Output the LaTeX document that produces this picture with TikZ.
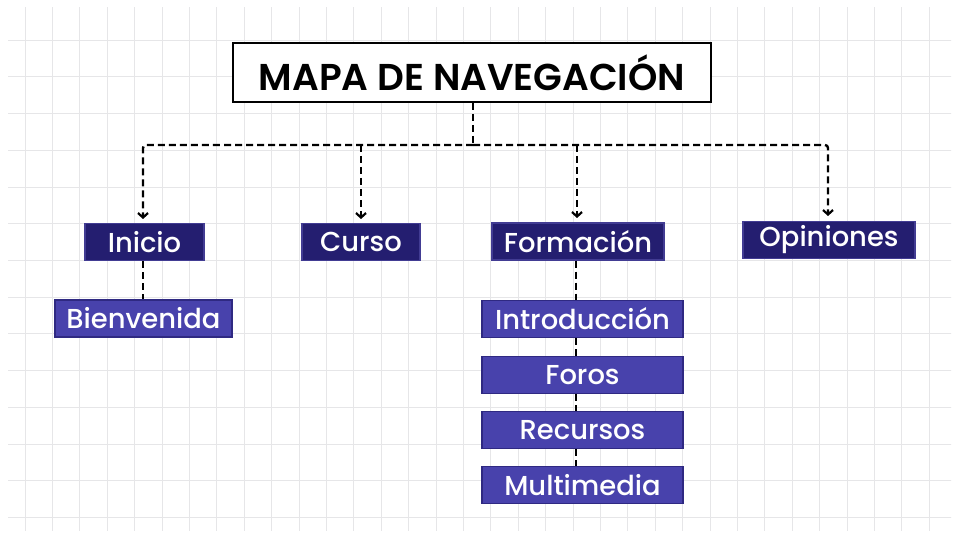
\documentclass[tikz,border=0pt]{standalone}
\usepackage{fontspec}
\setmainfont{Poppins}
\newfontfamily\labelfont{Poppins}[UprightFont=* Medium, BoldFont=* SemiBold]
\usetikzlibrary{arrows.meta}
\definecolor{navy}{RGB}{36,30,112}
\definecolor{blueish}{RGB}{72,66,172}
\definecolor{boxedge}{RGB}{110,104,200}
\definecolor{gridc}{RGB}{230,230,232}
\tikzset{
  mainbox/.style={draw=navy!60!boxedge, line width=1.2bp, fill=navy, text=white, minimum height=37bp, inner sep=0pt, font=\labelfont\fontsize{27.5}{30}\selectfont},
  subbox/.style={draw=navy!70!blueish, line width=1.2bp, fill=blueish, text=white, minimum height=37bp, inner sep=0pt, font=\labelfont\fontsize{27.5}{30}\selectfont},
  conn/.style={draw=black, line width=2.4bp, dash pattern=on 7bp off 4bp},
  arr/.style={conn, -{Straight Barb[length=4.5bp,width=10bp,line width=2.2bp]}},
}
\begin{document}
\begin{tikzpicture}[x=1bp,y=-1bp]
\useasboundingbox (0,0) rectangle (959,537);
\fill[white] (0,0) rectangle (959,537);
% grid
\begin{scope}
\clip (8,8) rectangle (951,530);
\foreach \i in {0,...,35} {\draw[gridc, line width=0.8bp] ({25+27.4*\i},0) -- ({25+27.4*\i},537);}
\foreach \j in {0,...,15} {\draw[gridc, line width=0.8bp] (0,{3.5+36.7*\j}) -- (959,{3.5+36.7*\j});}
\end{scope}
% title
\node[draw=black, line width=1.8bp, fill=white, minimum width=478bp, minimum height=59bp, inner sep=0pt, font=\labelfont\bfseries\fontsize{37.5}{40}\selectfont] (title) at (472,72.5) {MAPA DE NAVEGACIÓN};
% top level
\node[mainbox, minimum width=119bp] (inicio) at (144.5,242) {Inicio};
\node[mainbox, minimum width=118bp] (curso) at (361,242) {Curso};
\node[mainbox, minimum width=172bp] (formacion) at (578,241.5) {Formación};
\node[mainbox, minimum width=172bp] (opiniones) at (829,240) {Opiniones};
% sub
\node[subbox, minimum width=177bp] (bienvenida) at (143.5,318.5) {Bienvenida};
\node[subbox, minimum width=201bp] (intro) at (582.5,319) {Introducción};
\node[subbox, minimum width=201bp] (foros) at (582.5,375) {Foros};
\node[subbox, minimum width=201bp] (recursos) at (582.5,430) {Recursos};
\node[subbox, minimum width=201bp] (multi) at (582.5,485) {Multimedia};
% connectors
\coordinate (hub) at (473,145);
\draw[conn] (title.south -| hub) -- (hub);
\draw[arr, rounded corners=3bp] (hub) -- (143,145) -- (143,219);
\draw[arr] (361,145) -- (361,219);
\draw[arr] (577,145) -- (577,218);
\draw[arr, rounded corners=3bp] (hub) -- (828,145) -- (828,216);
\draw[conn] (inicio.south -| 143,0) -- (bienvenida.north -| 143,0);
\draw[conn] (formacion.south -| 576,0) -- (intro.north -| 576,0);
\draw[conn] (intro.south -| 576,0) -- (foros.north -| 576,0);
\draw[conn] (foros.south -| 576,0) -- (recursos.north -| 576,0);
\draw[conn] (recursos.south -| 576,0) -- (multi.north -| 576,0);
\end{tikzpicture}
\end{document}
